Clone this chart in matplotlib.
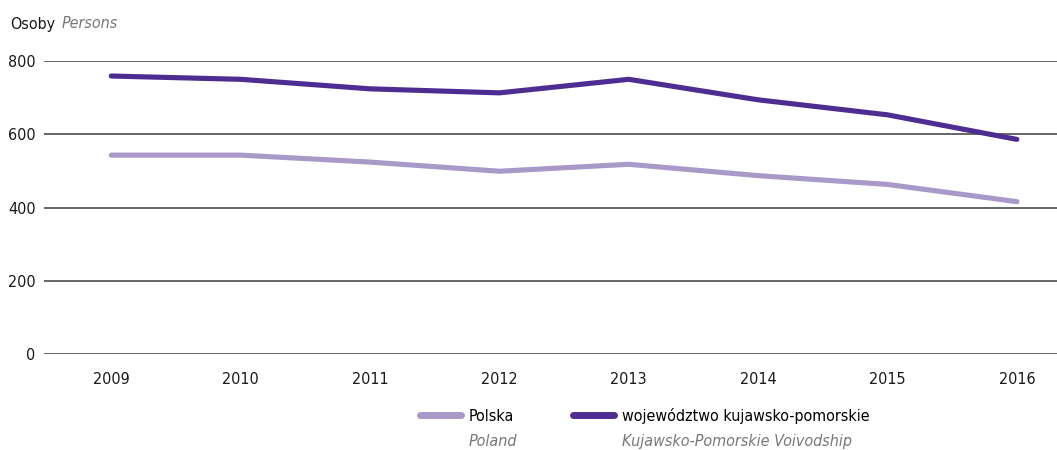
import matplotlib
matplotlib.use("Agg")
import matplotlib.pyplot as plt

plt.rcParams["font.family"] = ["DejaVu Sans"]
plt.rcParams["font.stretch"] = "condensed"

years = ["2009", "2010", "2011", "2012", "2013", "2014", "2015", "2016"]
polska = [543, 543, 524, 499, 518, 487, 463, 416]
kujawsko = [759, 750, 724, 713, 750, 694, 653, 586]
yticks = [0, 200, 400, 600, 800]

LIGHT = "#a899c9"
DARK = "#4e2d92"
GRID = "#5a5a5a"
FS = 11.5

fig = plt.figure(figsize=(10.57, 4.5), dpi=100)
ax = fig.add_axes([44 / 1057, (450 - 354) / 450, (1057 - 44) / 1057, 293 / 450])

x = range(len(years))
ax.plot(x, polska, color=LIGHT, lw=3.7, solid_capstyle="round", clip_on=False,
        label="Polska")
ax.plot(x, kujawsko, color=DARK, lw=3.7, solid_capstyle="round", clip_on=False,
        label="województwo kujawsko-pomorskie")

ax.set_xlim(-0.52, 7.31)
ax.set_ylim(0, 800)
ax.set_yticks(yticks)
ax.set_xticks(list(x))
ax.set_xticklabels(years)
ax.tick_params(axis="both", length=0, labelsize=FS, colors="#1a1a1a")
ax.tick_params(axis="y", pad=6)
ax.tick_params(axis="x", pad=13)
for s in ax.spines.values():
    s.set_visible(False)
ax.grid(True, axis="y", color=GRID, lw=1.3)
ax.set_axisbelow(True)

osoby = fig.text(10 / 1057, 1 - 24 / 450, "Osoby", fontsize=FS, color="#1a1a1a",
                 va="center")

leg = ax.legend(loc="upper left", bbox_to_anchor=(420 / 1057, 1 - 408 / 450),
                bbox_transform=fig.transFigure, ncol=2, frameon=False,
                fontsize=FS, handlelength=2.55, handletextpad=0.5,
                columnspacing=3.7, borderaxespad=0, borderpad=0)
for h in leg.get_lines():
    h.set_linewidth(5)
    h.set_solid_capstyle("round")

fig.canvas.draw()
inv = fig.transFigure.inverted()
bb = osoby.get_window_extent()
fig.text(inv.transform((bb.x1 + 6, 0))[0], 1 - 24 / 450, "Persons", fontsize=FS,
         color="#777777", style="italic", va="center")
for t, eng in zip(leg.get_texts(), ["Poland", "Kujawsko-Pomorskie Voivodship"]):
    bb = t.get_window_extent()
    x0, y0 = inv.transform((bb.x0, bb.y0))
    fig.text(x0, y0 - 10 / 450, eng, fontsize=FS, color="#777777", style="italic",
             va="top", ha="left")

fig.savefig("out.png", dpi=100)
